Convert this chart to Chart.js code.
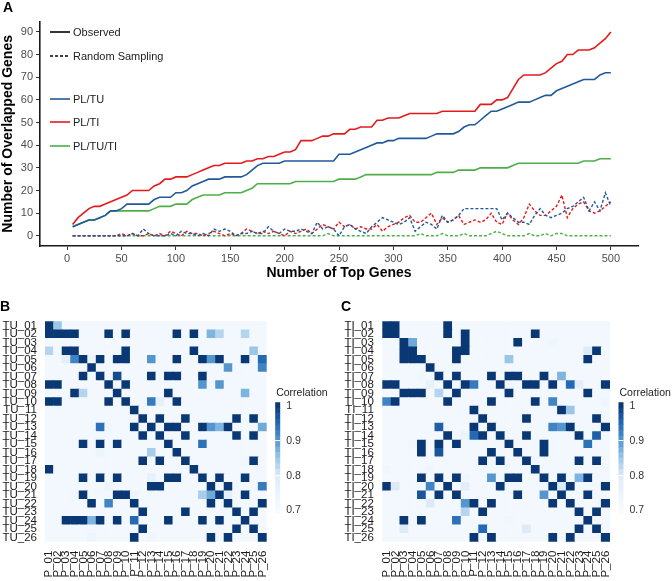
<!DOCTYPE html>
<html>
<head>
<meta charset="utf-8">
<script src="https://cdn.jsdelivr.net/npm/chart.js@4.4.1/dist/chart.umd.min.js"></script>
<style>
  html, body { margin: 0; padding: 0; background: #fff; }
  body { width: 672px; height: 581px; position: relative; overflow: hidden; font-family: "Liberation Sans", Arial, sans-serif; }
  .panel { position: absolute; }
  .tag { position: absolute; font-weight: bold; font-size: 14px; line-height: 14px; color: #000; }
</style>
</head>
<body>
<div class="panel" style="left:0;top:0"><canvas id="lineChart" width="672" height="285"></canvas></div>
<div class="panel" style="left:0;top:283px"><canvas id="heatB" width="330" height="298"></canvas></div>
<div class="panel" style="left:330px;top:283px"><canvas id="heatC" width="342" height="298"></canvas></div>
<div class="tag" style="left:3px;top:0px">A</div>
<div class="tag" style="left:0px;top:299px">B</div>
<div class="tag" style="left:341px;top:299px">C</div>
<script>
// ---- panel A : overlap of top genes ----
const topGenes = [
  5, 10, 15, 20, 25, 30, 35, 40, 45, 50,
  55, 60, 65, 70, 75, 80, 85, 90, 95, 100,
  105, 110, 115, 120, 125, 130, 135, 140, 145, 150,
  155, 160, 165, 170, 175, 180, 185, 190, 195, 200,
  205, 210, 215, 220, 225, 230, 235, 240, 245, 250,
  255, 260, 265, 270, 275, 280, 285, 290, 295, 300,
  305, 310, 315, 320, 325, 330, 335, 340, 345, 350,
  355, 360, 365, 370, 375, 380, 385, 390, 395, 400,
  405, 410, 415, 420, 425, 430, 435, 440, 445, 450,
  455, 460, 465, 470, 475, 480, 485, 490, 495, 500
];

const obsPLTU = [
  4, 5, 6, 7, 7, 8, 9, 11, 11, 12,
  14, 14, 14, 14, 14, 16, 17, 17, 17, 19,
  19, 20, 22, 23, 24, 25, 25, 25, 26, 26,
  26, 26, 27, 29, 31, 32, 32, 32, 32, 33,
  33, 33, 33, 33, 33, 33, 33, 33, 33, 36,
  36, 36, 37, 38, 39, 40, 41, 41, 42, 42,
  43, 43, 43, 43, 43, 43, 44, 45, 45, 45,
  45, 46, 48, 49, 49, 51, 53, 55, 55, 56,
  57, 58, 59, 59, 59, 60, 61, 62, 62, 64,
  65, 66, 67, 68, 69, 69, 69, 71, 72, 72
];

const obsPLTI = [
  5, 8, 10, 12, 13, 13, 14, 15, 16, 17,
  18, 20, 20, 20, 20, 22, 23, 25, 25, 26,
  26, 26, 27, 28, 29, 30, 31, 31, 32, 32,
  32, 32, 33, 33, 34, 34, 35, 35, 36, 37,
  37, 38, 42, 42, 42, 43, 44, 44, 45, 45,
  45, 47, 47, 48, 48, 48, 51, 51, 52, 52,
  52, 53, 54, 54, 54, 54, 54, 54, 55, 55,
  55, 55, 55, 55, 55, 58, 58, 58, 60, 60,
  61, 65, 69, 71, 71, 71, 71, 72, 74, 76,
  77, 80, 80, 82, 82, 82, 83, 85, 87, 90
];

const obsPLTUTI = [
  4, 5, 6, 7, 7, 8, 9, 11, 11, 11,
  11, 11, 11, 11, 11, 12, 13, 13, 13, 14,
  14, 14, 16, 17, 18, 18, 18, 18, 19, 19,
  19, 19, 20, 21, 23, 23, 23, 23, 23, 23,
  23, 24, 24, 24, 24, 24, 24, 24, 24, 25,
  25, 25, 25, 26, 27, 27, 27, 27, 27, 27,
  27, 27, 27, 27, 27, 27, 27, 28, 28, 28,
  28, 29, 29, 29, 29, 30, 30, 30, 30, 30,
  30, 31, 32, 32, 32, 32, 32, 32, 32, 32,
  32, 32, 32, 32, 33, 33, 33, 34, 34, 34
];

const rndPLTU = [
  0, 0, 0, 0, 0, 0, 0, 0, 0, 0,
  0, 1, 0, 3, 1, 0, 0, 0, 1, 0,
  2, 1, 1, 0, 1, 0, 3, 2, 3, 2,
  0, 1, 1, 2, 1, 1, 4, 2, 1, 3,
  2, 2, 3, 2, 1, 6, 3, 4, 3, 0,
  4, 5, 3, 2, 1, 4, 6, 8, 7, 6,
  5, 6, 8, 2, 4, 6, 5, 3, 9, 6,
  7, 9, 12, 12, 12, 12, 12, 12, 12, 7,
  10, 8, 6, 6, 5, 9, 12, 9, 8, 9,
  10, 12, 13, 15, 17, 11, 15, 11, 19, 13
];

const rndPLTI = [
  0, 0, 0, 0, 0, 0, 0, 0, 0, 1,
  0, 1, 0, 0, 1, 0, 1, 0, 2, 1,
  0, 2, 1, 1, 0, 1, 2, 1, 0, 1,
  0, 1, 3, 2, 1, 2, 1, 2, 1, 0,
  2, 1, 2, 3, 1, 3, 5, 4, 3, 6,
  4, 5, 3, 4, 3, 3, 5, 2, 4, 5,
  6, 8, 9, 6, 6, 8, 10, 5, 8, 6,
  7, 9, 5, 6, 7, 6, 7, 10, 6, 5,
  10, 7, 5, 8, 14, 11, 9, 9, 11, 13,
  18, 8, 12, 14, 15, 11, 10, 11, 13, 15
];

const rndPLTUTI = [
  0, 0, 0, 0, 0, 0, 0, 0, 0, 0,
  0, 0, 0, 0, 0, 0, 0, 0, 0, 0,
  0, 0, 0, 0, 0, 0, 0, 0, 0, 0,
  0, 0, 0, 0, 0, 0, 0, 0, 0, 0,
  0, 0, 0, 0, 0, 0, 0, 1, 0, 0,
  0, 0, 0, 0, 0, 0, 0, 0, 0, 0,
  0, 0, 0, 0, 1, 0, 0, 0, 1, 0,
  0, 0, 1, 0, 0, 0, 0, 1, 2, 1,
  0, 0, 0, 0, 1, 0, 0, 1, 0, 1,
  1, 0, 0, 0, 0, 0, 0, 0, 0, 0
];

const xTicks = [0, 50, 100, 150, 200, 250, 300, 350, 400, 450, 500];
const yTicks = [0, 10, 20, 30, 40, 50, 60, 70, 80, 90];

// ---- panels B and C : correlation heatmaps ----
const plLabels = ["P_01", "P_02", "P_03", "P_04", "P_05", "P_06", "P_07", "P_08", "P_09", "P_10", "P_11", "P_12", "P_13",
  "P_14", "P_15", "P_16", "P_17", "P_18", "P_19", "P_20", "P_21", "P_22", "P_23", "P_24", "P_25", "P_26"];
const tuLabels = ["TU_01", "TU_02", "TU_03", "TU_04", "TU_05", "TU_06", "TU_07", "TU_08", "TU_09", "TU_10", "TU_11", "TU_12", "TU_13",
  "TU_14", "TU_15", "TU_16", "TU_17", "TU_18", "TU_19", "TU_20", "TU_21", "TU_22", "TU_23", "TU_24", "TU_25", "TU_26"];
const tiLabels = ["TI_01", "TI_02", "TI_03", "TI_04", "TI_05", "TI_06", "TI_07", "TI_08", "TI_09", "TI_10", "TI_11", "TI_12", "TI_13",
  "TI_14", "TI_15", "TI_16", "TI_17", "TI_18", "TI_19", "TI_20", "TI_21", "TI_22", "TI_23", "TI_24", "TI_25", "TI_26"];

// rows TU_01..TU_26, columns P_01..P_26
const corB = [
  [1,.85,.72,.72,.72, .72,.72,.72,.72,.72, .72,.72,.72,.72,.72, .72,.72,.72,.72,.72, .72,.72,.72,.72,.72, .72],
  [1,1,1,1,.72, .72,.72,1,.72,1, .72,.72,.72,.72,.72, 1,.72,1,.72,.87, .83,.72,.72,.83,.72, .72],
  [.72,.72,.72,.72,.72, .72,.72,.72,.72,.72, .72,.72,.72,.72,.72, .72,.72,.72,.72,.72, .72,.72,.72,.72,.72, .72],
  [.83,.72,1,1,.72, .72,.72,.72,.72,1, .72,.72,.72,.72,.72, .72,.72,1,.72,.72, .72,.72,.72,.72,.85, .72],
  [.72,.72,.78,.92,1, .75,1,.72,1,1, .72,.72,.9,.72,.72, 1,.72,.72,1,.9, 1,.72,.72,1,.72, .95],
  [.72,.72,.72,.72,.72, 1,.72,.72,.72,.72, .72,.72,.72,.72,.72, .72,.72,.72,.72,.72, .72,.9,.72,.72,.72, .92],
  [.72,.72,.72,.72,1, .72,1,.72,.98,.72, .72,.72,1,.72,1, 1,.72,.72,1,.72, .72,.72,.72,.72,.72, .72],
  [1,1,.72,.72,.72, .72,.72,1,.72,1, .72,.72,.72,.72,.72, .72,.72,.72,.9,.72, .9,.72,.72,.72,.72, .72],
  [.72,.72,.72,1,.83, .72,.72,.72,1,.72, .72,.72,.72,.72,1, .72,.72,.72,.72,.72, .72,.72,.72,.87,.72, .72],
  [1,1,.72,.72,.72, .72,.72,1,.72,1, .72,.72,.93,.77,.72, 1,.72,.72,.72,.72, .72,.72,.72,.72,.72, .72],
  [.72,.72,.72,.72,.72, .72,.72,.72,.72,.72, 1,.72,.72,.72,.72, .72,.72,.72,.72,.72, .72,.72,.72,.72,.72, .72],
  [.72,.72,.72,.72,.72, .72,.72,.72,.72,.72, .72,1,.72,1,.72, .72,1,.72,.72,.72, .72,.72,1,.72,1, .72],
  [.72,.72,.72,.72,.72, .72,.94,.73,.72,.72, 1,.72,1,.72,1, 1,.72,.72,1,.9, .87,1,.72,.72,.72, .88],
  [.72,.72,.72,.72,.72, .72,.72,.72,.72,.72, .72,1,.72,1,.72, .72,1,.72,.72,.72, .72,.72,1,.72,1, .72],
  [.72,.72,.72,.72,1, .72,1,.72,1,.72, .72,.72,.72,.72,1, .72,.72,.72,.94,.72, .72,.72,.72,.72,.72, .72],
  [.72,.72,.72,.72,.72, .72,.74,.72,.72,.72, .72,.72,.84,.72,.72, 1,.72,.72,.72,.72, .72,.72,.72,.72,.72, .72],
  [.72,.72,.72,.72,.72, .72,.72,.72,.72,.72, .72,1,.72,1,.72, .72,1,.72,.72,.72, .72,.72,.72,.73,1, .72],
  [1,.72,.72,.72,.72, .72,.72,.72,.72,.72, .72,.72,.72,.72,.72, .72,.72,1,.72,.72, .72,.72,.72,.72,.72, .72],
  [.72,.72,.72,.72,1, .72,1,.72,1,.72, .72,.72,.76,.72,1, 1,.72,.72,1,.72, 1,.72,.72,1,.72, .72],
  [.72,.72,.72,.72,.72, .72,.72,.74,.72,.72, .72,.72,1,1,.72, .72,.72,.72,.72,1, .72,1,.72,.72,.72, .93],
  [.72,.72,.72,.73,1, .72,.72,.72,1,1, .74,.72,.72,.72,.72, .72,.72,.72,.84,.88, 1,.77,.72,1,.72, .72],
  [.72,.72,.72,.72,.72, 1,.72,.92,.72,.72, 1,.72,.72,.72,.72, .72,.72,.72,.72,1, .72,1,.72,.72,.72, 1],
  [.72,.72,.72,.72,.72, .72,.72,.72,.72,.72, .72,1,.72,.72,.72, .72,1,.72,.72,.72, .72,.72,1,.72,1, .72],
  [.72,.72,1,1,1, .87,1,.72,1,.72, .95,.72,.72,.72,1, .72,.72,.72,1,.72, 1,.72,.72,1,.72, .72],
  [.72,.72,.72,.72,.72, .72,.72,.72,.72,.72, .72,1,.72,.72,.72, .72,.72,.72,.72,.72, .72,.72,1,.72,1, .72],
  [.72,.72,.72,.72,.72, .74,.72,.72,.72,.72, 1,.72,.73,.72,.72, .72,.72,.72,.72,1, .72,1,.72,.72,.72, 1]
];

// rows TI_01..TI_26, columns P_01..P_26
const corC = [
  [1,1,.72,.72,.72, .72,.72,1,.72,.72, .72,.72,.72,.72,.72, .72,.72,.72,.72,.72, .72,.72,.72,.72,.72, .72],
  [1,1,.72,.72,.72, .72,.72,1,.72,1, .72,.72,.72,.72,.72, .72,.72,1,.72,.72, .72,.72,.72,.72,.72, .72],
  [.72,.72,1,.88,.72, .72,.72,.72,.72,1, .72,.72,.72,.72,.72, 1,.72,.72,.72,.73, .72,.72,.72,.72,.72, .72],
  [.72,.72,1,1,.72, .72,.72,.72,1,1, .72,.72,.72,.72,.72, .72,.72,.72,.72,.72, .72,.72,.72,.8,1, .72],
  [.72,.72,1,1,1, .72,.72,.72,1,.72, .72,.72,.72,.72,.85, .72,.72,.72,.72,.72, .72,.72,.72,1,.72, .72],
  [.72,.72,.72,.72,.72, 1,.72,.72,.72,.72, .72,.72,.72,.72,.72, .72,.72,.72,.72,.72, .72,.72,.72,.72,.72, .72],
  [.72,.72,.72,.72,.73, .72,1,.72,1,.72, .72,.72,1,.72,1, 1,.72,.72,1,.72, .87,.72,.72,.72,.72, .72],
  [1,1,.72,.72,.72, .76,.72,1,.72,1, .93,.72,.72,1,.72, .72,1,1,.72,1, .72,.95,.78,.72,.72, 1],
  [.72,.72,1,1,1, .72,.83,.72,1,.72, .72,.72,.72,.72,1, .72,.72,.72,.72,.72, .72,.72,.72,1,.72, .72],
  [.92,1,.72,.72,.72, .72,.72,1,.72,.72, .72,.72,1,.72,.72, .72,.72,1,.72,.92, .72,.72,.72,.72,.72, .73],
  [.72,.72,.72,.72,.72, .72,.72,.72,.72,.72, 1,.72,.72,.72,.72, .72,.72,.72,.72,.72, 1,.85,.72,.72,.72, .72],
  [.72,.72,.72,.72,.72, .72,.72,.72,.72,.72, .72,1,.72,.72,.72, .72,1,.72,.72,.72, .72,.72,.72,.72,1, .72],
  [.72,.72,.72,.72,.72, .72,.96,.72,.72,.72, 1,.72,1,.72,.72, .72,.72,.72,.72,.92, .9,1,.72,.72,.72, 1],
  [.72,.72,.72,.72,.72, .72,.72,1,.72,.75, .95,1,.72,1,.72, .72,1,.72,.72,.72, .72,.72,1,.72,.96, .72],
  [.72,.72,.72,.73,1, .72,1,.72,1,.72, .72,.72,.72,.72,1, .72,.72,.72,1,.72, .72,.72,.72,.94,.72, .72],
  [.72,.72,.72,.72,1, .72,.97,.72,.72,.72, .72,.72,1,.72,.72, 1,.72,.72,1,.72, .72,.72,.72,.72,.72, .72],
  [.72,.72,.72,.72,.72, .72,.72,.72,.72,.72, .72,1,.72,1,.72, .72,1,.73,.72,.72, .72,.72,1,.72,1, .72],
  [.73,.72,.72,.72,.72, .73,.72,.72,.72,.72, .72,.72,.72,.72,.72, .72,.72,1,.72,.72, .72,.72,.72,.72,.72, .72],
  [.72,.72,.72,.72,1, .72,1,.72,1,.73, .72,.72,.9,.72,1, 1,.72,.72,1,.72, 1,.72,.87,1,.72, .72],
  [1,.8,.72,.72,.72, .92,.72,1,.72,.78, .72,.72,.72,1,.72, .72,.72,.72,.72,1, .8,1,.72,.72,.72, 1],
  [.72,.72,.72,.72,.97, .72,1,.72,1,.72, .72,.72,.72,.72,.72, 1,.72,.72,.9,.72, 1,.72,.72,1,.72, .72],
  [.72,.72,.72,.72,.72, .8,.72,.72,.72,.9, 1,.72,1,.72,.72, .72,.72,.72,.72,1, .72,1,.72,.72,.72, 1],
  [.72,.72,.72,.72,.72, .72,.72,.72,.72,.83, .72,1,.72,.72,.72, .72,.72,.72,.72,.72, .72,.72,1,.72,1, .72],
  [.72,.72,1,.72,1, .72,.72,.72,.94,.72, .72,.72,.72,.72,.73, .72,.72,.72,.72,.72, .72,.72,.72,1,.72, .72],
  [.72,.72,.8,.72,.72, .72,.72,.72,.72,.72, .72,.95,.72,.72,.72, .72,.8,.72,.72,.72, .72,.72,1,.72,1, .72],
  [.72,.72,.72,.72,.72, .72,.72,.72,.72,.72, 1,.72,1,.72,.72, .72,.72,.72,.72,1, .72,1,.72,.72,.72, 1]
];

const corTicks = [1, 0.9, 0.8, 0.7];

const fontFamily = '"Liberation Sans", Arial, sans-serif';
Chart.defaults.font.family = fontFamily;
Chart.defaults.devicePixelRatio = 1;

const RED = "#e41a1c";
const BLUE = "#215a9a";
const GREEN = "#4daf4a";

function toPoints(values) {
    return topGenes.map((g, i) => ({ x: g, y: values[i] }));
}

function solid(label, values, color) {
    return { label: label, data: toPoints(values), borderColor: color, borderWidth: 1.6, pointRadius: 0, tension: 0, fill: false };
}

function dashed(label, values, color) {
    return { label: label, data: toPoints(values), borderColor: color, borderWidth: 1.4, borderDash: [3, 2], pointRadius: 0, tension: 0, fill: false };
}

// legend inside the plot, drawn like the ggplot one
const lineLegend = {
    id: "lineLegend",
    afterDraw(chart) {
        const ctx = chart.ctx;
        const items = [
            { y: 32, color: "#000", dash: [], text: "Observed" },
            { y: 56, color: "#000", dash: [3, 2], text: "Random Sampling" },
            { y: 99, color: BLUE, dash: [], text: "PL/TU" },
            { y: 122, color: RED, dash: [], text: "PL/TI" },
            { y: 146, color: GREEN, dash: [], text: "PL/TU/TI" }
        ];
        ctx.save();
        ctx.font = "11px " + fontFamily;
        ctx.textBaseline = "middle";
        items.forEach(it => {
            ctx.beginPath();
            ctx.setLineDash(it.dash);
            ctx.strokeStyle = it.color;
            ctx.lineWidth = 1.6;
            ctx.moveTo(50, it.y);
            ctx.lineTo(70, it.y);
            ctx.stroke();
            ctx.setLineDash([]);
            ctx.fillStyle = "#222";
            ctx.fillText(it.text, 73, it.y + 0.5);
        });
        ctx.restore();
    }
};

new Chart(document.getElementById("lineChart").getContext("2d"), {
    type: "line",
    data: {
        datasets: [
            solid("PL/TI", obsPLTI, RED),
            solid("PL/TU", obsPLTU, BLUE),
            solid("PL/TU/TI", obsPLTUTI, GREEN),
            dashed("PL/TU random", rndPLTU, BLUE),
            dashed("PL/TI random", rndPLTI, RED),
            dashed("PL/TU/TI random", rndPLTUTI, GREEN)
        ]
    },
    options: {
        responsive: false,
        animation: false,
        layout: { padding: { left: 0, top: 21.7, right: 34, bottom: 0 } },
        plugins: { legend: { display: false }, tooltip: { enabled: false } },
        scales: {
            x: {
                type: "linear",
                min: -25,
                max: 525,
                afterBuildTicks: s => { s.ticks = xTicks.map(v => ({ value: v })); },
                afterFit: s => { s.height = 39; },
                grid: { display: true, drawOnChartArea: false, drawTicks: true, tickLength: 4, color: "#333", lineWidth: 1 },
                border: { display: true, color: "#1a1a1a", width: 1.6 },
                ticks: { color: "#4d4d4d", font: { size: 11 }, padding: 2, maxRotation: 0 },
                title: { display: true, text: "Number of Top Genes", color: "#000", font: { size: 14, weight: "bold" }, padding: { top: 0, bottom: 3.5 } }
            },
            y: {
                type: "linear",
                min: -4.5,
                max: 94.5,
                afterBuildTicks: s => { s.ticks = yTicks.map(v => ({ value: v })); },
                afterFit: s => { s.width = 40; },
                grid: { display: true, drawOnChartArea: false, drawTicks: true, tickLength: 4, color: "#333", lineWidth: 1 },
                border: { display: true, color: "#1a1a1a", width: 1.6 },
                ticks: { color: "#4d4d4d", font: { size: 11 }, padding: 3 },
                title: { display: true, text: "Number of Overlapped Genes", color: "#000", font: { size: 14, weight: "bold" }, padding: { top: 0, bottom: 0 } }
            }
        }
    },
    plugins: [lineLegend]
});

// blue ramp for correlation 0.7 -> 1
const rampStops = [
    [0.7, [247, 251, 255]],
    [0.8, [222, 235, 247]],
    [0.86, [140, 190, 228]],
    [0.9, [85, 150, 205]],
    [0.95, [35, 105, 180]],
    [1.0, [10, 56, 117]]
];

function corColor(v) {
    const t = Math.max(0.7, Math.min(1, v));
    for (let i = 1; i < rampStops.length; i++) {
        const [v1, c1] = rampStops[i];
        const [v0, c0] = rampStops[i - 1];
        if (t <= v1) {
            const f = (t - v0) / (v1 - v0);
            const c = c0.map((a, k) => Math.round(a + (c1[k] - a) * f));
            return "rgb(" + c.join(",") + ")";
        }
    }
    return "rgb(10,56,117)";
}

// ggplot-like colour bar right of each heatmap
const colorBar = {
    id: "colorBar",
    afterDraw(chart) {
        const ctx = chart.ctx;
        const x0 = chart.chartArea.right + 8.5;
        const w = 5;
        const yOf = v => 122.7 + (1 - v) / 0.3 * 104.3;
        ctx.save();
        const nbin = 20;
        for (let i = 0; i < nbin; i++) {
            const hi = 1.01 - i * (0.32 / nbin);
            const lo = hi - 0.32 / nbin;
            ctx.fillStyle = corColor((hi + lo) / 2);
            ctx.fillRect(x0, yOf(hi), w, yOf(lo) - yOf(hi) + 0.5);
        }
        ctx.strokeStyle = "#fff";
        ctx.lineWidth = 1;
        [0.9, 0.8].forEach(v => {
            ctx.beginPath();
            ctx.moveTo(x0, Math.round(yOf(v)) + 0.5);
            ctx.lineTo(x0 + w, Math.round(yOf(v)) + 0.5);
            ctx.stroke();
        });
        ctx.fillStyle = "#222";
        ctx.font = "10.5px " + fontFamily;
        ctx.textBaseline = "middle";
        ctx.fillText("Correlation", x0 + 1, 110);
        ctx.fillStyle = "#333";
        corTicks.forEach(v => ctx.fillText(String(v), x0 + 11, yOf(v) + 0.5));
        ctx.restore();
    }
};

function heatmap(canvasId, rowLabels, matrix, axisWidth, padRight, labelPad) {
    const nRows = rowLabels.length;
    const datasets = [];
    // bottom row first so TU_01 / TI_01 ends up on top of the stack
    for (let r = nRows - 1; r >= 0; r--) {
        datasets.push({
            label: rowLabels[r],
            data: matrix[r].map(() => 1),
            backgroundColor: matrix[r].map(corColor),
            borderWidth: 0,
            barPercentage: 1,
            categoryPercentage: 1
        });
    }
    return new Chart(document.getElementById(canvasId).getContext("2d"), {
        type: "bar",
        data: { labels: plLabels, datasets: datasets },
        options: {
            responsive: false,
            animation: false,
            layout: { padding: { left: 0, top: 38.3, right: padRight, bottom: 0 } },
            plugins: { legend: { display: false }, tooltip: { enabled: false } },
            scales: {
                x: {
                    stacked: true,
                    afterFit: s => { s.height = 39.3; },
                    grid: { display: false, drawTicks: false },
                    border: { display: false },
                    ticks: { autoSkip: false, maxRotation: 90, minRotation: 90, padding: 9, color: "#1a1a1a", font: { size: 11.5 } }
                },
                y: {
                    type: "linear",
                    stacked: true,
                    min: 0,
                    max: nRows,
                    afterBuildTicks: s => { s.ticks = rowLabels.map((_, i) => ({ value: nRows - 0.5 - i })); },
                    afterFit: s => { s.width = axisWidth; },
                    grid: { display: false, drawTicks: false },
                    border: { display: false },
                    ticks: {
                        autoSkip: false,
                        padding: labelPad,
                        color: "#1a1a1a",
                        font: { size: 11.5 },
                        callback: v => rowLabels[Math.round(nRows - 0.5 - v)]
                    }
                }
            }
        },
        plugins: [colorBar]
    });
}

heatmap("heatB", tuLabels, corB, 45, 63.3, 8);
heatmap("heatC", tiLabels, corC, 52.3, 62, 8.5);
</script>
</body>
</html>
